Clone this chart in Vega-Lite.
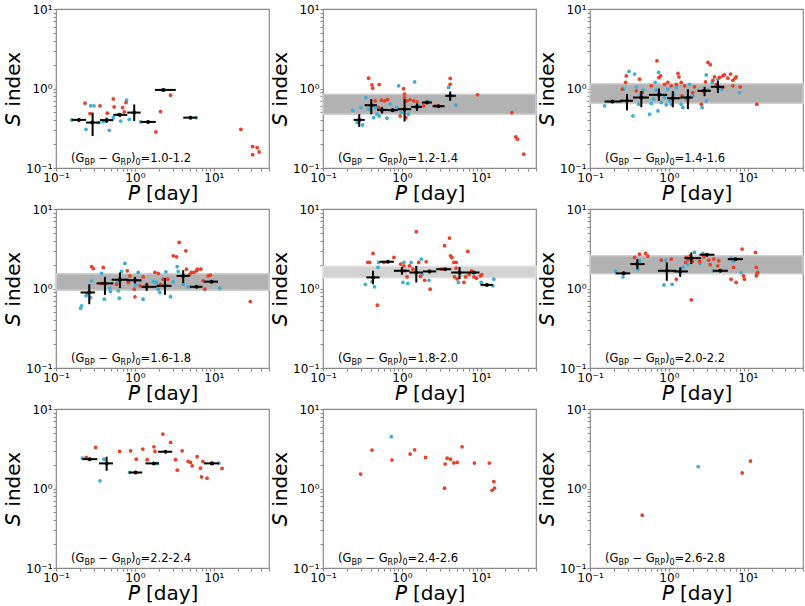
{
"$schema": "https://vega.github.io/schema/vega-lite/v6.json",
"padding": {"left": 2, "top": 2, "right": 2, "bottom": 0},
"background": "white",
"config": {
 "font": "DejaVu Sans",
 "view": {"stroke": "#8a8a8a", "strokeWidth": 1.2},
 "header": {"labelFontSize": 0, "labelPadding": 0, "titleFontSize": 0, "titlePadding": 0, "labels": false},
 "axis": {"labelFont": "DejaVu Sans", "labelFontSize": 12, "labelColor": "black", "titleFont": "DejaVu Sans", "titleFontSize": 20, "titleFontWeight": "normal", "titleColor": "black", "tickColor": "#8a8a8a", "tickSize": 3, "domain": false, "labelPadding": 1, "labelOverlap": false, "labelBound": false, "labelFlush": false, "grid": false},
 "axisX": {"titlePadding": 0},
 "axisY": {"titlePadding": 2}
},
"data": {"values": [
{"f":"1.0-1.2","t":"b","P":0.158,"S":0.403},{"f":"1.0-1.2","t":"b","P":0.24,"S":0.307},{"f":"1.0-1.2","t":"b","P":0.275,"S":0.605},{"f":"1.0-1.2","t":"b","P":0.303,"S":0.605},{"f":"1.0-1.2","t":"b","P":0.35,"S":0.373},{"f":"1.0-1.2","t":"b","P":0.473,"S":0.298},{"f":"1.0-1.2","t":"b","P":0.532,"S":0.43},{"f":"1.0-1.2","t":"b","P":0.615,"S":0.474},{"f":"1.0-1.2","t":"b","P":0.66,"S":0.39},{"f":"1.0-1.2","t":"b","P":0.785,"S":0.713},{"f":"1.0-1.2","t":"b","P":0.848,"S":0.41},{"f":"1.0-1.2","t":"b","P":1.18,"S":0.38},{"f":"1.0-1.2","t":"b","P":2.35,"S":0.96},{"f":"1.0-1.2","t":"b","P":6.0,"S":0.43},{"f":"1.0-1.2","t":"b","P":0.283,"S":0.373},{"f":"1.0-1.2","t":"b","P":0.397,"S":0.383},
{"f":"1.0-1.2","t":"r","P":0.233,"S":0.653},{"f":"1.0-1.2","t":"r","P":0.27,"S":0.484},{"f":"1.0-1.2","t":"r","P":0.36,"S":0.605},{"f":"1.0-1.2","t":"r","P":0.447,"S":0.489},{"f":"1.0-1.2","t":"r","P":0.532,"S":0.74},{"f":"1.0-1.2","t":"r","P":0.545,"S":0.587},{"f":"1.0-1.2","t":"r","P":0.698,"S":0.576},{"f":"1.0-1.2","t":"r","P":0.733,"S":0.508},{"f":"1.0-1.2","t":"r","P":0.77,"S":0.666},{"f":"1.0-1.2","t":"r","P":1.84,"S":0.284},{"f":"1.0-1.2","t":"r","P":2.11,"S":0.513},{"f":"1.0-1.2","t":"r","P":2.83,"S":0.824},{"f":"1.0-1.2","t":"r","P":22,"S":0.307},{"f":"1.0-1.2","t":"r","P":31,"S":0.186},{"f":"1.0-1.2","t":"r","P":31,"S":0.147},{"f":"1.0-1.2","t":"r","P":35.4,"S":0.18},{"f":"1.0-1.2","t":"r","P":37.5,"S":0.159},
{"f":"1.0-1.2","t":"m","P":0.195,"S":0.403,"P1":0.158,"P2":0.24,"S1":0.39,"S2":0.415},
{"f":"1.0-1.2","t":"m","P":0.291,"S":0.373,"P1":0.24,"P2":0.36,"S1":0.253,"S2":0.498},
{"f":"1.0-1.2","t":"m","P":0.438,"S":0.40,"P1":0.36,"P2":0.532,"S1":0.37,"S2":0.43},
{"f":"1.0-1.2","t":"m","P":0.646,"S":0.466,"P1":0.532,"P2":0.8,"S1":0.44,"S2":0.49},
{"f":"1.0-1.2","t":"m","P":0.98,"S":0.498,"P1":0.8,"P2":1.18,"S1":0.39,"S2":0.63},
{"f":"1.0-1.2","t":"m","P":1.47,"S":0.38,"P1":1.18,"P2":1.84,"S1":0.37,"S2":0.39},
{"f":"1.0-1.2","t":"m","P":2.28,"S":0.96,"P1":1.79,"P2":3.3,"S1":0.94,"S2":0.98},
{"f":"1.0-1.2","t":"m","P":5.07,"S":0.43,"P1":4.1,"P2":6.1,"S1":0.42,"S2":0.44},
{"f":"1.0-1.2","t":"lab","eq":"=1.0-1.2"},

{"f":"1.2-1.4","t":"band","S1":0.473,"S2":0.845},
{"f":"1.2-1.4","t":"b","P":0.238,"S":0.533},{"f":"1.2-1.4","t":"b","P":0.27,"S":0.373},{"f":"1.2-1.4","t":"b","P":0.303,"S":0.576},{"f":"1.2-1.4","t":"b","P":0.318,"S":0.348},{"f":"1.2-1.4","t":"b","P":0.35,"S":0.77},{"f":"1.2-1.4","t":"b","P":0.378,"S":0.549},{"f":"1.2-1.4","t":"b","P":0.438,"S":0.43},{"f":"1.2-1.4","t":"b","P":0.459,"S":0.576},{"f":"1.2-1.4","t":"b","P":0.483,"S":0.475},{"f":"1.2-1.4","t":"b","P":0.516,"S":0.45},{"f":"1.2-1.4","t":"c","P":0.57,"S":0.523},{"f":"1.2-1.4","t":"b","P":0.646,"S":0.423},{"f":"1.2-1.4","t":"b","P":0.711,"S":0.635},{"f":"1.2-1.4","t":"c","P":0.908,"S":1.08},{"f":"1.2-1.4","t":"b","P":0.864,"S":0.576},{"f":"1.2-1.4","t":"b","P":0.98,"S":0.50},{"f":"1.2-1.4","t":"b","P":1.21,"S":0.475},{"f":"1.2-1.4","t":"c","P":1.45,"S":1.21},{"f":"1.2-1.4","t":"b","P":1.63,"S":0.62},{"f":"1.2-1.4","t":"c","P":2.18,"S":0.686},{"f":"1.2-1.4","t":"c","P":3.9,"S":1.03},{"f":"1.2-1.4","t":"c","P":4.83,"S":0.62},
{"f":"1.2-1.4","t":"r","P":0.378,"S":1.35},{"f":"1.2-1.4","t":"r","P":0.417,"S":1.11},{"f":"1.2-1.4","t":"r","P":0.426,"S":1.01},{"f":"1.2-1.4","t":"r","P":0.516,"S":1.12},{"f":"1.2-1.4","t":"r","P":0.459,"S":0.70},{"f":"1.2-1.4","t":"r","P":0.548,"S":0.713},{"f":"1.2-1.4","t":"r","P":0.603,"S":0.70},{"f":"1.2-1.4","t":"r","P":0.659,"S":0.727},{"f":"1.2-1.4","t":"r","P":0.506,"S":0.576},{"f":"1.2-1.4","t":"r","P":1.05,"S":0.996},{"f":"1.2-1.4","t":"r","P":1.08,"S":0.849},{"f":"1.2-1.4","t":"r","P":1.08,"S":0.77},{"f":"1.2-1.4","t":"r","P":1.16,"S":0.70},{"f":"1.2-1.4","t":"r","P":1.12,"S":0.43},{"f":"1.2-1.4","t":"r","P":0.95,"S":0.45},{"f":"1.2-1.4","t":"r","P":1.27,"S":0.72},{"f":"1.2-1.4","t":"r","P":1.41,"S":0.70},{"f":"1.2-1.4","t":"r","P":1.55,"S":0.68},{"f":"1.2-1.4","t":"r","P":1.88,"S":0.605},{"f":"1.2-1.4","t":"r","P":2.64,"S":0.605},{"f":"1.2-1.4","t":"r","P":4.09,"S":1.34},{"f":"1.2-1.4","t":"r","P":4.09,"S":1.13},{"f":"1.2-1.4","t":"r","P":9.07,"S":0.832},{"f":"1.2-1.4","t":"r","P":24.7,"S":0.498},{"f":"1.2-1.4","t":"r","P":27.7,"S":0.246},{"f":"1.2-1.4","t":"r","P":29.1,"S":0.23},{"f":"1.2-1.4","t":"r","P":35,"S":0.149},
{"f":"1.2-1.4","t":"m","P":0.288,"S":0.403,"P1":0.244,"P2":0.337,"S1":0.329,"S2":0.475},
{"f":"1.2-1.4","t":"m","P":0.409,"S":0.616,"P1":0.337,"P2":0.483,"S1":0.475,"S2":0.734},
{"f":"1.2-1.4","t":"m","P":0.558,"S":0.538,"P1":0.483,"P2":0.665,"S1":0.484,"S2":0.587},
{"f":"1.2-1.4","t":"m","P":0.762,"S":0.534,"P1":0.665,"P2":0.89,"S1":0.51,"S2":0.56},
{"f":"1.2-1.4","t":"m","P":1.08,"S":0.549,"P1":0.89,"P2":1.31,"S1":0.384,"S2":0.734},
{"f":"1.2-1.4","t":"m","P":1.55,"S":0.587,"P1":1.31,"P2":1.79,"S1":0.523,"S2":0.647},
{"f":"1.2-1.4","t":"m","P":2.07,"S":0.666,"P1":1.79,"P2":2.4,"S1":0.64,"S2":0.69},
{"f":"1.2-1.4","t":"m","P":2.91,"S":0.599,"P1":2.44,"P2":3.47,"S1":0.59,"S2":0.61},
{"f":"1.2-1.4","t":"m","P":4.09,"S":0.809,"P1":3.54,"P2":4.83,"S1":0.70,"S2":0.916},
{"f":"1.2-1.4","t":"lab","eq":"=1.2-1.4"},

{"f":"1.4-1.6","t":"band","S1":0.652,"S2":1.15},
{"f":"1.4-1.6","t":"b","P":0.153,"S":0.605},{"f":"1.4-1.6","t":"b","P":0.257,"S":0.70},{"f":"1.4-1.6","t":"b","P":0.267,"S":0.98},{"f":"1.4-1.6","t":"b","P":0.312,"S":1.64},{"f":"1.4-1.6","t":"b","P":0.35,"S":0.452},{"f":"1.4-1.6","t":"b","P":0.367,"S":1.52},{"f":"1.4-1.6","t":"b","P":0.386,"S":1.05},{"f":"1.4-1.6","t":"b","P":0.413,"S":0.634},{"f":"1.4-1.6","t":"b","P":0.434,"S":0.848},{"f":"1.4-1.6","t":"b","P":0.469,"S":0.953},{"f":"1.4-1.6","t":"b","P":0.569,"S":0.475},{"f":"1.4-1.6","t":"b","P":0.598,"S":0.647},{"f":"1.4-1.6","t":"b","P":0.64,"S":0.734},{"f":"1.4-1.6","t":"b","P":0.671,"S":1.19},{"f":"1.4-1.6","t":"b","P":0.691,"S":0.953},{"f":"1.4-1.6","t":"c","P":0.726,"S":0.523},{"f":"1.4-1.6","t":"c","P":0.74,"S":1.59},{"f":"1.4-1.6","t":"b","P":0.777,"S":0.848},{"f":"1.4-1.6","t":"c","P":0.80,"S":0.666},{"f":"1.4-1.6","t":"b","P":0.881,"S":0.77},{"f":"1.4-1.6","t":"c","P":0.925,"S":0.623},{"f":"1.4-1.6","t":"b","P":0.97,"S":0.98},{"f":"1.4-1.6","t":"c","P":1.02,"S":0.70},{"f":"1.4-1.6","t":"b","P":1.07,"S":0.634},{"f":"1.4-1.6","t":"c","P":1.15,"S":0.848},{"f":"1.4-1.6","t":"b","P":1.24,"S":1.03},{"f":"1.4-1.6","t":"b","P":1.43,"S":0.634},{"f":"1.4-1.6","t":"c","P":1.5,"S":0.576},{"f":"1.4-1.6","t":"b","P":1.63,"S":0.734},{"f":"1.4-1.6","t":"b","P":1.83,"S":1.13},{"f":"1.4-1.6","t":"b","P":2.01,"S":0.808},{"f":"1.4-1.6","t":"b","P":2.64,"S":0.576},{"f":"1.4-1.6","t":"c","P":2.97,"S":1.48},{"f":"1.4-1.6","t":"b","P":2.97,"S":0.70},{"f":"1.4-1.6","t":"c","P":3.12,"S":0.953},{"f":"1.4-1.6","t":"b","P":3.54,"S":1.19},{"f":"1.4-1.6","t":"c","P":4.17,"S":1.31},{"f":"1.4-1.6","t":"b","P":4.59,"S":0.98},{"f":"1.4-1.6","t":"b","P":7.85,"S":0.89},
{"f":"1.4-1.6","t":"r","P":0.257,"S":0.98},{"f":"1.4-1.6","t":"r","P":0.283,"S":1.19},{"f":"1.4-1.6","t":"r","P":0.288,"S":1.44},{"f":"1.4-1.6","t":"r","P":0.425,"S":1.31},{"f":"1.4-1.6","t":"r","P":0.386,"S":0.935},{"f":"1.4-1.6","t":"r","P":0.459,"S":0.89},{"f":"1.4-1.6","t":"r","P":0.598,"S":1.08},{"f":"1.4-1.6","t":"r","P":0.705,"S":2.23},{"f":"1.4-1.6","t":"r","P":0.747,"S":1.37},{"f":"1.4-1.6","t":"r","P":0.785,"S":1.44},{"f":"1.4-1.6","t":"r","P":0.881,"S":1.13},{"f":"1.4-1.6","t":"r","P":0.97,"S":1.19},{"f":"1.4-1.6","t":"r","P":1.07,"S":1.08},{"f":"1.4-1.6","t":"r","P":1.24,"S":1.13},{"f":"1.4-1.6","t":"r","P":1.30,"S":1.55},{"f":"1.4-1.6","t":"r","P":1.34,"S":1.40},{"f":"1.4-1.6","t":"r","P":1.43,"S":1.19},{"f":"1.4-1.6","t":"r","P":1.47,"S":0.808},{"f":"1.4-1.6","t":"r","P":1.58,"S":1.08},{"f":"1.4-1.6","t":"r","P":1.74,"S":0.70},{"f":"1.4-1.6","t":"r","P":2.01,"S":0.89},{"f":"1.4-1.6","t":"r","P":2.11,"S":1.05},{"f":"1.4-1.6","t":"r","P":2.57,"S":0.634},{"f":"1.4-1.6","t":"r","P":2.69,"S":0.935},{"f":"1.4-1.6","t":"r","P":2.91,"S":1.21},{"f":"1.4-1.6","t":"r","P":3.12,"S":2.13},{"f":"1.4-1.6","t":"r","P":3.34,"S":1.99},{"f":"1.4-1.6","t":"r","P":3.61,"S":1.27},{"f":"1.4-1.6","t":"r","P":3.78,"S":1.40},{"f":"1.4-1.6","t":"r","P":4.38,"S":1.38},{"f":"1.4-1.6","t":"r","P":4.82,"S":1.44},{"f":"1.4-1.6","t":"r","P":5.06,"S":1.48},{"f":"1.4-1.6","t":"r","P":5.58,"S":1.35},{"f":"1.4-1.6","t":"r","P":6.03,"S":1.52},{"f":"1.4-1.6","t":"r","P":6.46,"S":1.27},{"f":"1.4-1.6","t":"r","P":6.9,"S":1.35},{"f":"1.4-1.6","t":"r","P":7.1,"S":1.40},{"f":"1.4-1.6","t":"r","P":8.0,"S":1.05},{"f":"1.4-1.6","t":"r","P":6.46,"S":1.08},{"f":"1.4-1.6","t":"r","P":4.82,"S":1.03},{"f":"1.4-1.6","t":"r","P":3.97,"S":1.13},{"f":"1.4-1.6","t":"r","P":13,"S":0.635},
{"f":"1.4-1.6","t":"m","P":0.192,"S":0.686,"P1":0.153,"P2":0.249,"S1":0.67,"S2":0.70},
{"f":"1.4-1.6","t":"m","P":0.294,"S":0.70,"P1":0.238,"P2":0.35,"S1":0.53,"S2":0.85},
{"f":"1.4-1.6","t":"m","P":0.447,"S":0.77,"P1":0.35,"P2":0.558,"S1":0.58,"S2":0.93},
{"f":"1.4-1.6","t":"m","P":0.747,"S":0.832,"P1":0.558,"P2":0.95,"S1":0.70,"S2":1.0},
{"f":"1.4-1.6","t":"m","P":1.12,"S":0.755,"P1":0.95,"P2":1.4,"S1":0.58,"S2":0.93},
{"f":"1.4-1.6","t":"m","P":1.74,"S":0.77,"P1":1.4,"P2":2.0,"S1":0.55,"S2":0.98},
{"f":"1.4-1.6","t":"m","P":2.83,"S":0.935,"P1":2.3,"P2":3.4,"S1":0.80,"S2":1.05},
{"f":"1.4-1.6","t":"m","P":4.17,"S":1.05,"P1":3.4,"P2":5.0,"S1":0.88,"S2":1.25},
{"f":"1.4-1.6","t":"lab","eq":"=1.4-1.6"},

{"f":"1.6-1.8","t":"band","S1":0.95,"S2":1.535},
{"f":"1.6-1.8","t":"b","P":0.205,"S":0.565},{"f":"1.6-1.8","t":"b","P":0.211,"S":0.605},{"f":"1.6-1.8","t":"b","P":0.24,"S":0.808},{"f":"1.6-1.8","t":"b","P":0.25,"S":0.865},{"f":"1.6-1.8","t":"b","P":0.275,"S":0.77},{"f":"1.6-1.8","t":"b","P":0.283,"S":1.25},{"f":"1.6-1.8","t":"b","P":0.378,"S":1.55},{"f":"1.6-1.8","t":"b","P":0.409,"S":0.734},{"f":"1.6-1.8","t":"b","P":0.483,"S":1.01},{"f":"1.6-1.8","t":"b","P":0.49,"S":0.916},{"f":"1.6-1.8","t":"b","P":0.598,"S":1.19},{"f":"1.6-1.8","t":"b","P":0.615,"S":0.935},{"f":"1.6-1.8","t":"b","P":0.634,"S":0.755},{"f":"1.6-1.8","t":"b","P":0.678,"S":1.64},{"f":"1.6-1.8","t":"c","P":0.747,"S":2.07},{"f":"1.6-1.8","t":"b","P":0.864,"S":1.27},{"f":"1.6-1.8","t":"c","P":1.1,"S":1.59},{"f":"1.6-1.8","t":"b","P":1.03,"S":1.11},{"f":"1.6-1.8","t":"c","P":1.16,"S":1.25},{"f":"1.6-1.8","t":"c","P":1.27,"S":0.734},{"f":"1.6-1.8","t":"b","P":1.71,"S":1.22},{"f":"1.6-1.8","t":"b","P":1.88,"S":1.19},{"f":"1.6-1.8","t":"c","P":1.97,"S":0.98},{"f":"1.6-1.8","t":"b","P":2.07,"S":0.89},{"f":"1.6-1.8","t":"c","P":2.47,"S":1.62},{"f":"1.6-1.8","t":"c","P":2.83,"S":0.79},{"f":"1.6-1.8","t":"c","P":3.06,"S":1.21},{"f":"1.6-1.8","t":"c","P":3.43,"S":1.89},{"f":"1.6-1.8","t":"b","P":3.54,"S":1.64},{"f":"1.6-1.8","t":"c","P":4.09,"S":1.13},{"f":"1.6-1.8","t":"b","P":4.73,"S":1.05},{"f":"1.6-1.8","t":"b","P":11.9,"S":1.01},
{"f":"1.6-1.8","t":"r","P":0.283,"S":1.88},{"f":"1.6-1.8","t":"r","P":0.297,"S":1.79},{"f":"1.6-1.8","t":"r","P":0.397,"S":1.84},{"f":"1.6-1.8","t":"r","P":0.378,"S":1.16},{"f":"1.6-1.8","t":"r","P":0.586,"S":1.13},{"f":"1.6-1.8","t":"r","P":0.8,"S":1.67},{"f":"1.6-1.8","t":"r","P":0.823,"S":1.19},{"f":"1.6-1.8","t":"r","P":0.864,"S":1.44},{"f":"1.6-1.8","t":"r","P":0.98,"S":0.98},{"f":"1.6-1.8","t":"r","P":1.0,"S":0.785},{"f":"1.6-1.8","t":"r","P":1.16,"S":1.08},{"f":"1.6-1.8","t":"r","P":1.27,"S":1.4},{"f":"1.6-1.8","t":"r","P":1.41,"S":1.13},{"f":"1.6-1.8","t":"r","P":1.79,"S":1.59},{"f":"1.6-1.8","t":"r","P":1.97,"S":1.55},{"f":"1.6-1.8","t":"r","P":2.11,"S":1.13},{"f":"1.6-1.8","t":"r","P":2.28,"S":1.31},{"f":"1.6-1.8","t":"r","P":2.6,"S":1.31},{"f":"1.6-1.8","t":"r","P":3.06,"S":2.58},{"f":"1.6-1.8","t":"r","P":3.37,"S":2.5},{"f":"1.6-1.8","t":"r","P":3.64,"S":3.8},{"f":"1.6-1.8","t":"r","P":4.42,"S":2.98},{"f":"1.6-1.8","t":"r","P":4.5,"S":1.75},{"f":"1.6-1.8","t":"r","P":4.96,"S":1.51},{"f":"1.6-1.8","t":"r","P":5.2,"S":1.59},{"f":"1.6-1.8","t":"r","P":5.6,"S":1.59},{"f":"1.6-1.8","t":"r","P":6.04,"S":1.67},{"f":"1.6-1.8","t":"r","P":6.2,"S":1.75},{"f":"1.6-1.8","t":"r","P":6.85,"S":1.75},{"f":"1.6-1.8","t":"r","P":7.33,"S":1.25},{"f":"1.6-1.8","t":"r","P":7.68,"S":0.98},{"f":"1.6-1.8","t":"r","P":8.47,"S":1.44},{"f":"1.6-1.8","t":"r","P":9.0,"S":1.47},{"f":"1.6-1.8","t":"r","P":29,"S":0.686},
{"f":"1.6-1.8","t":"m","P":0.264,"S":0.891,"P1":0.205,"P2":0.312,"S1":0.635,"S2":1.13},
{"f":"1.6-1.8","t":"m","P":0.417,"S":1.16,"P1":0.327,"P2":0.532,"S1":0.832,"S2":1.40},
{"f":"1.6-1.8","t":"m","P":0.646,"S":1.29,"P1":0.507,"P2":0.824,"S1":1.01,"S2":1.59},
{"f":"1.6-1.8","t":"m","P":1.0,"S":1.27,"P1":0.785,"P2":1.21,"S1":1.16,"S2":1.40},
{"f":"1.6-1.8","t":"m","P":1.41,"S":1.05,"P1":1.21,"P2":1.88,"S1":0.935,"S2":1.16},
{"f":"1.6-1.8","t":"m","P":2.4,"S":1.08,"P1":1.88,"P2":2.91,"S1":0.832,"S2":1.35},
{"f":"1.6-1.8","t":"m","P":4.09,"S":1.44,"P1":3.37,"P2":4.96,"S1":1.17,"S2":1.70},
{"f":"1.6-1.8","t":"m","P":6.04,"S":1.05,"P1":4.96,"P2":7.17,"S1":1.02,"S2":1.08},
{"f":"1.6-1.8","t":"m","P":9.34,"S":1.22,"P1":7.47,"P2":11.3,"S1":1.19,"S2":1.25},
{"f":"1.6-1.8","t":"lab","eq":"=1.6-1.8"},

{"f":"1.8-2.0","t":"band2","S1":1.37,"S2":1.9},
{"f":"1.8-2.0","t":"b","P":0.344,"S":1.13},{"f":"1.8-2.0","t":"b","P":0.417,"S":1.22},{"f":"1.8-2.0","t":"b","P":0.45,"S":1.05},{"f":"1.8-2.0","t":"b","P":0.497,"S":1.84},{"f":"1.8-2.0","t":"b","P":0.507,"S":2.13},{"f":"1.8-2.0","t":"b","P":1.03,"S":1.19},{"f":"1.8-2.0","t":"b","P":1.06,"S":2.13},{"f":"1.8-2.0","t":"b","P":1.19,"S":1.16},{"f":"1.8-2.0","t":"b","P":1.31,"S":2.13},{"f":"1.8-2.0","t":"b","P":1.76,"S":2.34},{"f":"1.8-2.0","t":"b","P":1.8,"S":1.5},{"f":"1.8-2.0","t":"b","P":2.2,"S":1.27},{"f":"1.8-2.0","t":"b","P":5.2,"S":1.19},{"f":"1.8-2.0","t":"b","P":10.1,"S":1.19},{"f":"1.8-2.0","t":"b","P":14.2,"S":1.08},{"f":"1.8-2.0","t":"b","P":14.6,"S":1.31},
{"f":"1.8-2.0","t":"r","P":0.371,"S":2.13},{"f":"1.8-2.0","t":"r","P":0.39,"S":2.13},{"f":"1.8-2.0","t":"r","P":0.43,"S":2.76},{"f":"1.8-2.0","t":"r","P":0.488,"S":0.617},{"f":"1.8-2.0","t":"r","P":0.592,"S":2.13},{"f":"1.8-2.0","t":"r","P":0.792,"S":2.46},{"f":"1.8-2.0","t":"r","P":0.962,"S":2.03},{"f":"1.8-2.0","t":"r","P":1.06,"S":1.93},{"f":"1.8-2.0","t":"r","P":1.1,"S":1.67},{"f":"1.8-2.0","t":"r","P":1.16,"S":1.4},{"f":"1.8-2.0","t":"r","P":1.25,"S":1.93},{"f":"1.8-2.0","t":"r","P":1.38,"S":1.75},{"f":"1.8-2.0","t":"r","P":1.52,"S":5.18},{"f":"1.8-2.0","t":"r","P":1.63,"S":2.13},{"f":"1.8-2.0","t":"r","P":1.72,"S":1.42},{"f":"1.8-2.0","t":"r","P":1.94,"S":1.27},{"f":"1.8-2.0","t":"r","P":2.03,"S":2.17},{"f":"1.8-2.0","t":"r","P":2.28,"S":0.98},{"f":"1.8-2.0","t":"r","P":3.2,"S":1.75},{"f":"1.8-2.0","t":"r","P":3.47,"S":3.45},{"f":"1.8-2.0","t":"r","P":4.01,"S":4.31},{"f":"1.8-2.0","t":"r","P":4.13,"S":2.58},{"f":"1.8-2.0","t":"r","P":4.3,"S":2.45},{"f":"1.8-2.0","t":"r","P":4.55,"S":2.13},{"f":"1.8-2.0","t":"r","P":4.86,"S":2.13},{"f":"1.8-2.0","t":"r","P":4.86,"S":1.8},{"f":"1.8-2.0","t":"r","P":4.63,"S":1.40},{"f":"1.8-2.0","t":"r","P":5.0,"S":1.32},{"f":"1.8-2.0","t":"r","P":6.1,"S":1.19},{"f":"1.8-2.0","t":"r","P":6.4,"S":1.4},{"f":"1.8-2.0","t":"r","P":6.83,"S":2.93},{"f":"1.8-2.0","t":"r","P":7.1,"S":1.5},{"f":"1.8-2.0","t":"r","P":7.6,"S":1.67},{"f":"1.8-2.0","t":"r","P":8.2,"S":1.4},{"f":"1.8-2.0","t":"r","P":8.8,"S":1.35},{"f":"1.8-2.0","t":"r","P":9.9,"S":1.44},{"f":"1.8-2.0","t":"r","P":10.3,"S":1.49},
{"f":"1.8-2.0","t":"m","P":0.43,"S":1.38,"P1":0.354,"P2":0.521,"S1":1.13,"S2":1.67},
{"f":"1.8-2.0","t":"m","P":0.665,"S":2.17,"P1":0.521,"P2":0.792,"S1":2.12,"S2":2.22},
{"f":"1.8-2.0","t":"m","P":1.0,"S":1.67,"P1":0.792,"P2":1.25,"S1":1.49,"S2":1.87},
{"f":"1.8-2.0","t":"m","P":1.52,"S":1.59,"P1":1.25,"P2":1.84,"S1":1.19,"S2":1.93},
{"f":"1.8-2.0","t":"m","P":2.24,"S":1.64,"P1":1.84,"P2":2.72,"S1":1.56,"S2":1.72},
{"f":"1.8-2.0","t":"m","P":3.54,"S":1.75,"P1":2.72,"P2":4.21,"S1":1.72,"S2":1.78},
{"f":"1.8-2.0","t":"m","P":5.37,"S":1.59,"P1":4.21,"P2":6.52,"S1":1.31,"S2":1.87},
{"f":"1.8-2.0","t":"m","P":8.15,"S":1.59,"P1":6.52,"P2":9.62,"S1":1.56,"S2":1.62},
{"f":"1.8-2.0","t":"m","P":12.0,"S":1.11,"P1":9.9,"P2":14.2,"S1":1.09,"S2":1.13},
{"f":"1.8-2.0","t":"lab","eq":"=1.8-2.0"},

{"f":"2.0-2.2","t":"band","S1":1.535,"S2":2.59},
{"f":"2.0-2.2","t":"b","P":0.211,"S":1.67},{"f":"2.0-2.2","t":"b","P":0.262,"S":1.40},{"f":"2.0-2.2","t":"b","P":0.405,"S":1.75},{"f":"2.0-2.2","t":"b","P":0.425,"S":2.23},{"f":"2.0-2.2","t":"b","P":0.906,"S":2.27},{"f":"2.0-2.2","t":"c","P":0.864,"S":1.11},{"f":"2.0-2.2","t":"c","P":1.1,"S":1.13},{"f":"2.0-2.2","t":"c","P":1.5,"S":1.84},{"f":"2.0-2.2","t":"b","P":1.74,"S":1.99},{"f":"2.0-2.2","t":"c","P":2.11,"S":2.84},{"f":"2.0-2.2","t":"c","P":2.49,"S":2.07},{"f":"2.0-2.2","t":"b","P":2.69,"S":2.76},{"f":"2.0-2.2","t":"b","P":3.67,"S":1.67},{"f":"2.0-2.2","t":"c","P":6.14,"S":2.41},{"f":"2.0-2.2","t":"b","P":6.46,"S":2.19},{"f":"2.0-2.2","t":"b","P":8.22,"S":1.59},
{"f":"2.0-2.2","t":"r","P":0.367,"S":2.46},{"f":"2.0-2.2","t":"r","P":0.425,"S":2.7},{"f":"2.0-2.2","t":"r","P":0.506,"S":2.76},{"f":"2.0-2.2","t":"r","P":0.54,"S":2.56},{"f":"2.0-2.2","t":"r","P":0.8,"S":2.27},{"f":"2.0-2.2","t":"r","P":1.07,"S":2.34},{"f":"2.0-2.2","t":"r","P":1.24,"S":1.31},{"f":"2.0-2.2","t":"r","P":1.63,"S":2.13},{"f":"2.0-2.2","t":"r","P":1.66,"S":2.46},{"f":"2.0-2.2","t":"r","P":1.75,"S":2.3},{"f":"2.0-2.2","t":"r","P":1.86,"S":2.58},{"f":"2.0-2.2","t":"r","P":1.98,"S":2.2},{"f":"2.0-2.2","t":"r","P":1.92,"S":0.72},{"f":"2.0-2.2","t":"r","P":2.44,"S":2.19},{"f":"2.0-2.2","t":"r","P":2.77,"S":2.5},{"f":"2.0-2.2","t":"r","P":3.2,"S":2.27},{"f":"2.0-2.2","t":"r","P":3.34,"S":1.99},{"f":"2.0-2.2","t":"r","P":3.7,"S":2.35},{"f":"2.0-2.2","t":"r","P":4.17,"S":1.93},{"f":"2.0-2.2","t":"r","P":4.29,"S":2.23},{"f":"2.0-2.2","t":"r","P":6.14,"S":1.31},{"f":"2.0-2.2","t":"r","P":6.59,"S":1.84},{"f":"2.0-2.2","t":"r","P":7.1,"S":1.19},{"f":"2.0-2.2","t":"r","P":8.47,"S":3.13},{"f":"2.0-2.2","t":"r","P":8.8,"S":1.44},{"f":"2.0-2.2","t":"r","P":9.05,"S":1.31},{"f":"2.0-2.2","t":"r","P":12.5,"S":2.84},{"f":"2.0-2.2","t":"r","P":12.8,"S":1.84},{"f":"2.0-2.2","t":"r","P":13,"S":1.52},{"f":"2.0-2.2","t":"r","P":13.4,"S":1.59},{"f":"2.0-2.2","t":"r","P":12.8,"S":1.44},
{"f":"2.0-2.2","t":"m","P":0.267,"S":1.55,"P1":0.211,"P2":0.324,"S1":1.52,"S2":1.58},
{"f":"2.0-2.2","t":"m","P":0.398,"S":2.03,"P1":0.324,"P2":0.492,"S1":1.75,"S2":2.34},
{"f":"2.0-2.2","t":"m","P":0.94,"S":1.67,"P1":0.726,"P2":1.24,"S1":1.25,"S2":2.13},
{"f":"2.0-2.2","t":"m","P":1.39,"S":1.64,"P1":1.15,"P2":1.74,"S1":1.40,"S2":1.84},
{"f":"2.0-2.2","t":"m","P":1.92,"S":2.41,"P1":1.58,"P2":2.56,"S1":2.03,"S2":2.84},
{"f":"2.0-2.2","t":"m","P":3.03,"S":2.66,"P1":2.44,"P2":3.78,"S1":2.54,"S2":2.78},
{"f":"2.0-2.2","t":"m","P":4.47,"S":1.67,"P1":3.6,"P2":5.57,"S1":1.64,"S2":1.70},
{"f":"2.0-2.2","t":"m","P":6.98,"S":2.34,"P1":5.57,"P2":8.65,"S1":2.30,"S2":2.38},
{"f":"2.0-2.2","t":"lab","eq":"=2.0-2.2"},

{"f":"2.2-2.4","t":"b","P":0.216,"S":2.41},{"f":"2.2-2.4","t":"b","P":0.405,"S":2.34},{"f":"2.2-2.4","t":"b","P":0.36,"S":1.25},{"f":"2.2-2.4","t":"b","P":0.856,"S":1.59},{"f":"2.2-2.4","t":"b","P":1.92,"S":2.07},{"f":"2.2-2.4","t":"b","P":11.6,"S":2.09},
{"f":"2.2-2.4","t":"r","P":0.242,"S":2.46},{"f":"2.2-2.4","t":"r","P":0.318,"S":3.29},{"f":"2.2-2.4","t":"r","P":0.64,"S":2.93},{"f":"2.2-2.4","t":"r","P":0.881,"S":2.98},{"f":"2.2-2.4","t":"r","P":1.04,"S":2.34},{"f":"2.2-2.4","t":"r","P":1.26,"S":3.13},{"f":"2.2-2.4","t":"r","P":1.43,"S":2.3},{"f":"2.2-2.4","t":"r","P":1.74,"S":3.35},{"f":"2.2-2.4","t":"r","P":1.79,"S":2.93},{"f":"2.2-2.4","t":"r","P":2.26,"S":4.84},{"f":"2.2-2.4","t":"r","P":2.83,"S":3.8},{"f":"2.2-2.4","t":"r","P":3.27,"S":2.3},{"f":"2.2-2.4","t":"r","P":3.44,"S":1.70},{"f":"2.2-2.4","t":"r","P":3.97,"S":2.98},{"f":"2.2-2.4","t":"r","P":4.73,"S":2.19},{"f":"2.2-2.4","t":"r","P":5.06,"S":2.13},{"f":"2.2-2.4","t":"r","P":5.31,"S":1.93},{"f":"2.2-2.4","t":"r","P":6.14,"S":2.51},{"f":"2.2-2.4","t":"r","P":6.77,"S":1.80},{"f":"2.2-2.4","t":"r","P":6.98,"S":1.40},{"f":"2.2-2.4","t":"r","P":7.25,"S":2.19},{"f":"2.2-2.4","t":"r","P":8.22,"S":1.35},{"f":"2.2-2.4","t":"r","P":9.34,"S":2.09},{"f":"2.2-2.4","t":"r","P":12.7,"S":1.79},
{"f":"2.2-2.4","t":"m","P":0.267,"S":2.34,"P1":0.216,"P2":0.334,"S1":2.31,"S2":2.37},
{"f":"2.2-2.4","t":"m","P":0.438,"S":2.07,"P1":0.35,"P2":0.527,"S1":1.67,"S2":2.51},
{"f":"2.2-2.4","t":"m","P":1.02,"S":1.59,"P1":0.84,"P2":1.24,"S1":1.57,"S2":1.61},
{"f":"2.2-2.4","t":"m","P":1.74,"S":2.07,"P1":1.36,"P2":2.01,"S1":2.04,"S2":2.10},
{"f":"2.2-2.4","t":"m","P":2.44,"S":2.9,"P1":1.97,"P2":2.97,"S1":2.86,"S2":2.94},
{"f":"2.2-2.4","t":"m","P":9.5,"S":2.07,"P1":7.47,"P2":11.6,"S1":2.04,"S2":2.10},
{"f":"2.2-2.4","t":"lab","eq":"=2.2-2.4"},

{"f":"2.4-2.6","t":"b","P":0.733,"S":4.48},
{"f":"2.4-2.6","t":"r","P":0.3,"S":1.52},{"f":"2.4-2.6","t":"r","P":0.417,"S":3.04},{"f":"2.4-2.6","t":"r","P":0.747,"S":2.28},{"f":"2.4-2.6","t":"r","P":1.27,"S":2.71},{"f":"2.4-2.6","t":"r","P":1.45,"S":3.07},{"f":"2.4-2.6","t":"r","P":1.99,"S":2.46},{"f":"2.4-2.6","t":"r","P":3.46,"S":1.01},{"f":"2.4-2.6","t":"r","P":3.53,"S":2.03},{"f":"2.4-2.6","t":"r","P":3.74,"S":2.41},{"f":"2.4-2.6","t":"r","P":4.13,"S":2.34},{"f":"2.4-2.6","t":"r","P":4.55,"S":2.1},{"f":"2.4-2.6","t":"r","P":5.01,"S":2.13},{"f":"2.4-2.6","t":"r","P":5.79,"S":3.35},{"f":"2.4-2.6","t":"r","P":8.3,"S":2.09},{"f":"2.4-2.6","t":"r","P":12.8,"S":2.09},{"f":"2.4-2.6","t":"r","P":14.6,"S":1.22},{"f":"2.4-2.6","t":"r","P":13.9,"S":0.95},{"f":"2.4-2.6","t":"r","P":14.9,"S":1.01},
{"f":"2.4-2.6","t":"lab","eq":"=2.4-2.6"},

{"f":"2.6-2.8","t":"b","P":2.35,"S":1.89},
{"f":"2.6-2.8","t":"r","P":0.459,"S":0.461},{"f":"2.6-2.8","t":"r","P":8.48,"S":1.57},{"f":"2.6-2.8","t":"r","P":10.8,"S":2.21},
{"f":"2.6-2.8","t":"lab","eq":"=2.6-2.8"}
]},
"facet": {"field": "f", "type": "nominal", "title": null, "header": null},
"columns": 3,
"spacing": {"row": 41, "column": 54},
"bounds": "flush",
"resolve": {"axis": {"x": "independent", "y": "independent"}},
"spec": {
 "width": 213,
 "height": 159,
 "layer": [
  {
   "transform": [{"filter": "datum.t == 'band'"}],
   "mark": {"type": "rect", "color": "#b2b2b2", "stroke": "#cfcfcf", "strokeWidth": 1.5},
   "encoding": {
    "x": {"datum": 0.1, "type": "quantitative", "scale": {"type": "log", "domain": [0.1, 50], "nice": false}, "title": "𝘗 [day]", "axis": {"values": [0.1,0.2,0.3,0.4,0.5,0.6,0.7,0.8,0.9,1,2,3,4,5,6,7,8,9,10,20,30,40,50], "labelExpr": "datum.value==0.1?'10⁻¹':datum.value==1?'10⁰':datum.value==10?'10¹':''"}},
    "x2": {"datum": 50},
    "y": {"field": "S1", "type": "quantitative", "scale": {"type": "log", "domain": [0.1, 10], "nice": false}, "title": "𝘚 index", "axis": {"values": [0.1,0.2,0.3,0.4,0.5,0.6,0.7,0.8,0.9,1,2,3,4,5,6,7,8,9,10], "labelExpr": "datum.value==0.1?'10⁻¹':datum.value==1?'10⁰':datum.value==10?'10¹':''"}},
    "y2": {"field": "S2"}
   }
  },
  {
   "transform": [{"filter": "datum.t == 'band2'"}],
   "mark": {"type": "rect", "color": "#d2d2d2", "stroke": "#e2e2e2", "strokeWidth": 1.5},
   "encoding": {
    "x": {"datum": 0.1, "type": "quantitative", "scale": {"type": "log", "domain": [0.1, 50], "nice": false}, "title": "𝘗 [day]", "axis": {"values": [0.1,0.2,0.3,0.4,0.5,0.6,0.7,0.8,0.9,1,2,3,4,5,6,7,8,9,10,20,30,40,50], "labelExpr": "datum.value==0.1?'10⁻¹':datum.value==1?'10⁰':datum.value==10?'10¹':''"}},
    "x2": {"datum": 50},
    "y": {"field": "S1", "type": "quantitative", "scale": {"type": "log", "domain": [0.1, 10], "nice": false}, "title": "𝘚 index", "axis": {"values": [0.1,0.2,0.3,0.4,0.5,0.6,0.7,0.8,0.9,1,2,3,4,5,6,7,8,9,10], "labelExpr": "datum.value==0.1?'10⁻¹':datum.value==1?'10⁰':datum.value==10?'10¹':''"}},
    "y2": {"field": "S2"}
   }
  },
  {
   "transform": [{"filter": "datum.t == 'r' || datum.t == 'b' || datum.t == 'c'"}],
   "mark": {"type": "circle", "opacity": 1, "strokeWidth": 0},
   "encoding": {
    "x": {"field": "P", "type": "quantitative", "scale": {"type": "log", "domain": [0.1, 50], "nice": false}, "title": "𝘗 [day]", "axis": {"values": [0.1,0.2,0.3,0.4,0.5,0.6,0.7,0.8,0.9,1,2,3,4,5,6,7,8,9,10,20,30,40,50], "labelExpr": "datum.value==0.1?'10⁻¹':datum.value==1?'10⁰':datum.value==10?'10¹':''"}},
    "y": {"field": "S", "type": "quantitative", "scale": {"type": "log", "domain": [0.1, 10], "nice": false}, "title": "𝘚 index", "axis": {"values": [0.1,0.2,0.3,0.4,0.5,0.6,0.7,0.8,0.9,1,2,3,4,5,6,7,8,9,10], "labelExpr": "datum.value==0.1?'10⁻¹':datum.value==1?'10⁰':datum.value==10?'10¹':''"}},
    "color": {"field": "t", "type": "nominal", "scale": {"domain": ["r", "b", "c"], "range": ["#ea3f27", "#3cb0d6", "#3ca8d2"]}, "legend": null},
    "size": {"field": "t", "type": "nominal", "scale": {"domain": ["r", "b", "c"], "range": [14, 14, 30]}, "legend": null}
   }
  },
  {
   "transform": [{"filter": "datum.t == 'm'"}],
   "mark": {"type": "rule", "color": "black", "strokeWidth": 2},
   "encoding": {
    "x": {"field": "P1", "type": "quantitative", "scale": {"type": "log", "domain": [0.1, 50], "nice": false}, "title": "𝘗 [day]", "axis": {"values": [0.1,0.2,0.3,0.4,0.5,0.6,0.7,0.8,0.9,1,2,3,4,5,6,7,8,9,10,20,30,40,50], "labelExpr": "datum.value==0.1?'10⁻¹':datum.value==1?'10⁰':datum.value==10?'10¹':''"}},
    "x2": {"field": "P2"},
    "y": {"field": "S", "type": "quantitative", "scale": {"type": "log", "domain": [0.1, 10], "nice": false}, "title": "𝘚 index", "axis": {"values": [0.1,0.2,0.3,0.4,0.5,0.6,0.7,0.8,0.9,1,2,3,4,5,6,7,8,9,10], "labelExpr": "datum.value==0.1?'10⁻¹':datum.value==1?'10⁰':datum.value==10?'10¹':''"}}
   }
  },
  {
   "transform": [{"filter": "datum.t == 'm'"}],
   "mark": {"type": "rule", "color": "black", "strokeWidth": 2},
   "encoding": {
    "x": {"field": "P", "type": "quantitative", "scale": {"type": "log", "domain": [0.1, 50], "nice": false}, "title": "𝘗 [day]", "axis": {"values": [0.1,0.2,0.3,0.4,0.5,0.6,0.7,0.8,0.9,1,2,3,4,5,6,7,8,9,10,20,30,40,50], "labelExpr": "datum.value==0.1?'10⁻¹':datum.value==1?'10⁰':datum.value==10?'10¹':''"}},
    "y": {"field": "S1", "type": "quantitative", "scale": {"type": "log", "domain": [0.1, 10], "nice": false}, "title": "𝘚 index", "axis": {"values": [0.1,0.2,0.3,0.4,0.5,0.6,0.7,0.8,0.9,1,2,3,4,5,6,7,8,9,10], "labelExpr": "datum.value==0.1?'10⁻¹':datum.value==1?'10⁰':datum.value==10?'10¹':''"}},
    "y2": {"field": "S2"}
   }
  },
  {
   "transform": [{"filter": "datum.t == 'm'"}],
   "mark": {"type": "circle", "color": "black", "opacity": 1, "size": 16},
   "encoding": {
    "x": {"field": "P", "type": "quantitative", "scale": {"type": "log", "domain": [0.1, 50], "nice": false}, "title": "𝘗 [day]", "axis": {"values": [0.1,0.2,0.3,0.4,0.5,0.6,0.7,0.8,0.9,1,2,3,4,5,6,7,8,9,10,20,30,40,50], "labelExpr": "datum.value==0.1?'10⁻¹':datum.value==1?'10⁰':datum.value==10?'10¹':''"}},
    "y": {"field": "S", "type": "quantitative", "scale": {"type": "log", "domain": [0.1, 10], "nice": false}, "title": "𝘚 index", "axis": {"values": [0.1,0.2,0.3,0.4,0.5,0.6,0.7,0.8,0.9,1,2,3,4,5,6,7,8,9,10], "labelExpr": "datum.value==0.1?'10⁻¹':datum.value==1?'10⁰':datum.value==10?'10¹':''"}}
   }
  },
  {
   "transform": [{"filter": "datum.t == 'lab'"}],
   "encoding": {
    "x": {"datum": 0.155, "type": "quantitative", "scale": {"type": "log", "domain": [0.1, 50], "nice": false}, "title": "𝘗 [day]", "axis": {"values": [0.1,0.2,0.3,0.4,0.5,0.6,0.7,0.8,0.9,1,2,3,4,5,6,7,8,9,10,20,30,40,50], "labelExpr": "datum.value==0.1?'10⁻¹':datum.value==1?'10⁰':datum.value==10?'10¹':''"}},
    "y": {"datum": 0.119, "type": "quantitative", "scale": {"type": "log", "domain": [0.1, 10], "nice": false}, "title": "𝘚 index", "axis": {"values": [0.1,0.2,0.3,0.4,0.5,0.6,0.7,0.8,0.9,1,2,3,4,5,6,7,8,9,10], "labelExpr": "datum.value==0.1?'10⁻¹':datum.value==1?'10⁰':datum.value==10?'10¹':''"}}
   },
   "layer": [
    {"mark": {"type": "text", "align": "left", "baseline": "alphabetic", "fontSize": 11.5, "color": "black", "dx": 0, "text": "(G"}},
    {"mark": {"type": "text", "align": "left", "baseline": "alphabetic", "fontSize": 8, "color": "black", "dx": 13.4, "dy": 3, "text": "BP"}},
    {"mark": {"type": "text", "align": "left", "baseline": "alphabetic", "fontSize": 11.5, "color": "black", "dx": 27.4, "text": "− G"}},
    {"mark": {"type": "text", "align": "left", "baseline": "alphabetic", "fontSize": 8, "color": "black", "dx": 49.6, "dy": 3, "text": "RP"}},
    {"mark": {"type": "text", "align": "left", "baseline": "alphabetic", "fontSize": 11.5, "color": "black", "dx": 60.0, "text": ")"}},
    {"mark": {"type": "text", "align": "left", "baseline": "alphabetic", "fontSize": 8, "color": "black", "dx": 64.5, "dy": 3, "text": "0"}},
    {"mark": {"type": "text", "align": "left", "baseline": "alphabetic", "fontSize": 11.5, "color": "black", "dx": 69.6}, "encoding": {"text": {"field": "eq"}}}
   ]
  }
 ]
}
}
